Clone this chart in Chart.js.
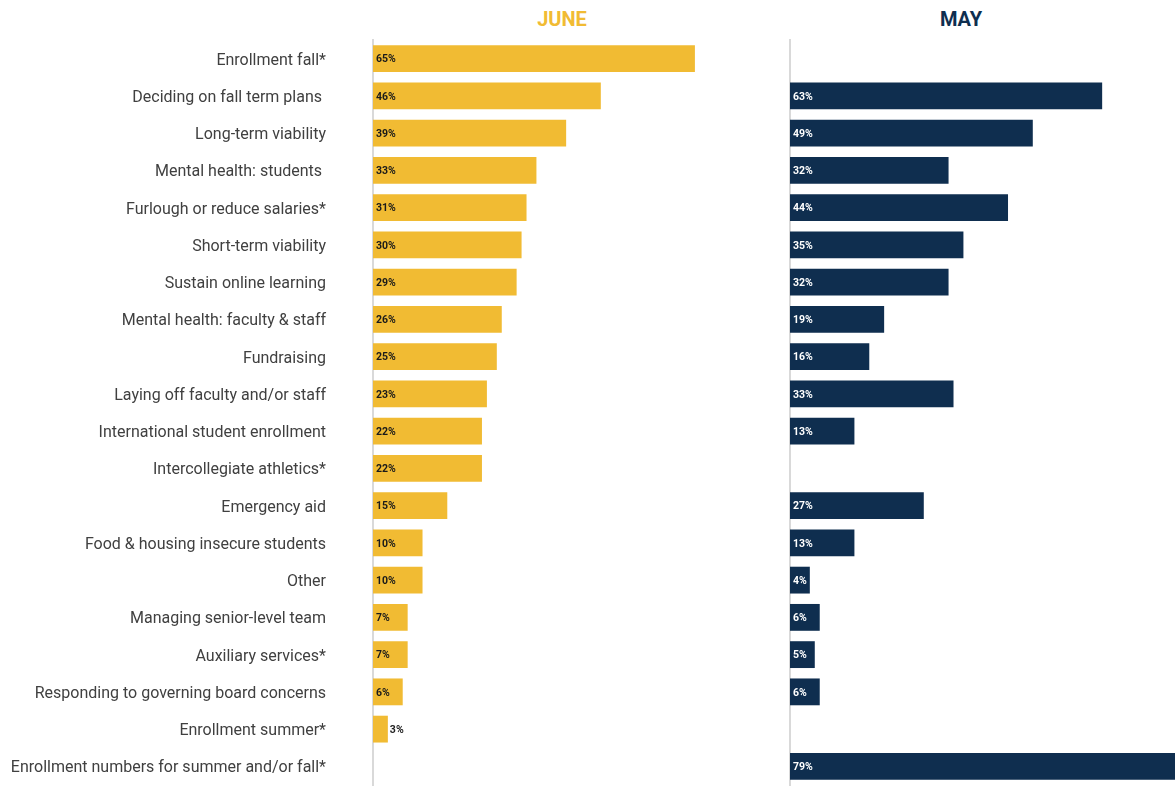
<!DOCTYPE html>
<html lang="en">
<head>
  <meta charset="UTF-8">
  <title>June vs May</title>
  <script src="https://cdn.jsdelivr.net/npm/chart.js"></script>
</head>
<body>
  <div class="title" id="june-title">JUNE</div>
  <div class="title" id="may-title">MAY</div>
  <div id="june-box"><canvas id="june-chart"></canvas></div>
  <div id="may-box"><canvas id="may-chart"></canvas></div>
</body>
</html>
<style>
body {
  margin: 0;
  background: #fff;
  font-family: Roboto, Arial, sans-serif;
}
.title {
  position: absolute;
  top: 7px;
  width: 200px;
  text-align: center;
  font-weight: bold;
  font-size: 20px;
}
#june-title { left: 462px; color: #F1BB33; }
#may-title { left: 861px; color: #0F2E4F; }
#june-box {
  position: absolute;
  left: 0; top: 0;
  width: 790px; height: 788px;
}
#may-box {
  position: absolute;
  left: 788px; top: 0;
  width: 387px; height: 788px;
}
</style>
<script>
const categories = [
  'Enrollment fall*',
  'Deciding on fall term plans ',
  'Long-term viability',
  'Mental health: students ',
  'Furlough or reduce salaries*',
  'Short-term viability',
  'Sustain online learning',
  'Mental health: faculty & staff',
  'Fundraising',
  'Laying off faculty and/or staff',
  'International student enrollment',
  'Intercollegiate athletics*',
  'Emergency aid',
  'Food & housing insecure students',
  'Other',
  'Managing senior-level team',
  'Auxiliary services*',
  'Responding to governing board concerns',
  'Enrollment summer*',
  'Enrollment numbers for summer and/or fall*'
];
const juneValues = [65, 46, 39, 33, 31, 30, 29, 26, 25, 23, 22, 22, 15, 10, 10, 7, 7, 6, 3, null];
const mayValues = [null, 63, 49, 32, 44, 35, 32, 19, 16, 33, 13, null, 27, 13, 4, 6, 5, 6, null, 79];

// draws the percent labels at the start of each bar
const valueLabels = {
  id: 'valueLabels',
  afterDatasetsDraw(chart, args, opts) {
    const ctx = chart.ctx;
    const meta = chart.getDatasetMeta(0);
    const data = chart.data.datasets[0].data;
    ctx.save();
    ctx.font = 'bold 10.5px Roboto, Arial, sans-serif';
    ctx.textBaseline = 'middle';
    ctx.textAlign = 'left';
    meta.data.forEach((bar, i) => {
      if (data[i] == null) return;
      const txt = data[i] + '%';
      const len = bar.x - bar.base;
      if (len < 17) {
        ctx.fillStyle = '#222';
        ctx.fillText(txt, bar.x + 2, bar.y + 1);
      } else {
        ctx.fillStyle = opts.color;
        ctx.fillText(txt, bar.base + 3, bar.y + 1);
      }
    });
    ctx.restore();
  }
};

function makeChart(id, values, color, labelColor, xMax, showLabels) {
  return new Chart(document.getElementById(id), {
    type: 'bar',
    data: {
      labels: categories,
      datasets: [{
        data: values,
        backgroundColor: color,
        categoryPercentage: 1,
        barPercentage: 0.72
      }]
    },
    options: {
      indexAxis: 'y',
      responsive: true,
      maintainAspectRatio: false,
      animation: false,
      layout: { padding: { top: 40, bottom: 3, left: 0, right: 0 } },
      plugins: {
        legend: { display: false },
        tooltip: { enabled: false },
        valueLabels: { color: labelColor }
      },
      scales: {
        x: { display: false, min: 0, max: xMax },
        y: {
          afterFit: s => {
            s.width = showLabels ? 373 : 2;
            s.paddingTop = 0;
            s.paddingBottom = 0;
          },
          // invisible tick marks make the gap between labels and axis
          grid: { display: false, drawTicks: true, tickLength: 47 },
          border: { display: true, color: '#d9d9d9', width: 2 },
          ticks: {
            display: showLabels,
            padding: 0,
            labelOffset: 2,
            color: '#404040',
            font: { family: 'Roboto', size: 16 }
          }
        }
      }
    },
    plugins: [valueLabels]
  });
}

makeChart('june-chart', juneValues, '#F1BB33', '#1a1a1a', 84.2, true);
makeChart('may-chart', mayValues, '#0F2E4F', '#ffffff', 77.7, false);
</script>
